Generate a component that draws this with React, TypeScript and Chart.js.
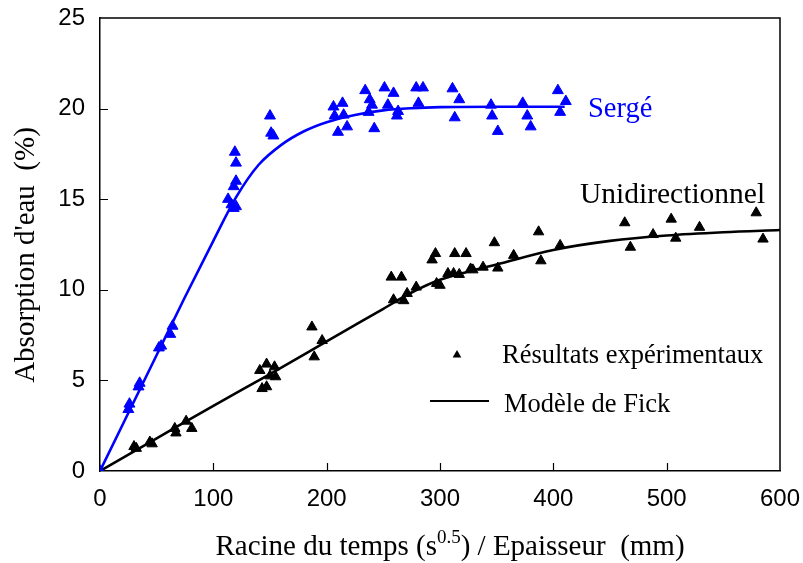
import React, { useEffect, useRef } from "react";
import { Chart, registerables } from "chart.js";

Chart.register(...registerables);

// ---- Data ----
const sergeX = [0, 25, 26, 34, 35, 52, 54, 62, 64, 113, 116, 118, 120, 118, 120, 120, 119, 150, 151, 153,
  206, 214, 207, 215, 218, 210, 234, 238, 237, 240, 242, 251, 259, 254, 263, 262, 279, 285, 281,
  311, 317, 313, 345, 346, 351, 373, 377, 380, 404, 406, 411];
const sergeY = [0, 3.4, 3.7, 4.65, 4.85, 6.8, 6.9, 7.55, 8.0, 15.0, 14.7, 14.5, 14.6, 15.7, 16.0, 17.0, 17.6, 19.6, 18.65, 18.5,
  20.1, 20.3, 19.6, 19.65, 19.0, 18.7, 21.0, 20.5, 19.8, 20.2, 18.9, 21.15, 20.85, 20.2, 19.85, 19.6, 21.15, 21.15, 20.3,
  21.1, 20.5, 19.5, 20.2, 19.6, 18.75, 20.3, 19.6, 19.0, 21.0, 19.8, 20.4];

const sergeModelX = [0, 25, 50, 75, 100, 120, 140, 160, 180, 200, 225, 250, 275, 300, 350, 410];
const sergeModelY = [0, 3.2, 6.4, 9.6, 12.7, 15.1, 16.9, 18.0, 18.75, 19.25, 19.65, 19.9, 20.02, 20.08, 20.1, 20.1];

const uniX = [0, 30, 32, 44, 46, 66, 67, 76, 81, 141, 147, 154, 150, 143, 147, 155, 187, 189, 196,
  257, 266, 259, 268, 271, 279, 296, 293, 297, 300, 307, 312, 313, 317, 323, 327, 329, 338, 348, 351, 365,
  387, 389, 406, 463, 468, 488, 504, 508, 529, 579, 585];
const uniY = [0, 1.35, 1.25, 1.6, 1.5, 2.35, 2.1, 2.75, 2.35, 5.55, 5.9, 5.75, 5.25, 4.55, 4.65, 5.2, 7.95, 6.3, 7.2,
  10.7, 10.7, 9.45, 9.4, 9.8, 10.15, 12.0, 11.65, 10.35, 10.25, 10.9, 10.9, 12.0, 10.85, 12.0, 11.15, 11.1, 11.25, 12.6, 11.2, 11.9,
  13.2, 11.6, 12.45, 13.7, 12.35, 13.05, 13.9, 12.85, 13.45, 14.25, 12.8];

const uniModelX = [0, 50, 100, 150, 200, 250, 275, 300, 325, 350, 400, 450, 500, 550, 600];
const uniModelY = [0, 1.8, 3.6, 5.35, 7.15, 8.95, 9.85, 10.55, 11.0, 11.4, 12.2, 12.7, 13.0, 13.18, 13.3];

const xTickValues = [0, 100, 200, 300, 400, 500, 600];
const yTickValues = [0, 5, 10, 15, 20, 25];

const BLUE = "#0000ff";
const BLACK = "#000000";
const SERIF = "'Liberation Serif', 'Times New Roman', serif";
const SANS = "'Liberation Sans', Arial, sans-serif";

const toPts = (xs: number[], ys: number[]) => xs.map((x, i) => ({ x, y: ys[i] }));

const decorPlugin = {
  id: "decor",
  afterDraw(chart: any) {
    const { ctx, chartArea: a, scales } = chart;
    const xs = scales.x;
    const ys = scales.y;
    ctx.save();
    // frame top & right
    ctx.strokeStyle = BLACK;
    ctx.lineWidth = 1.5;
    ctx.beginPath();
    ctx.moveTo(a.left, a.top);
    ctx.lineTo(a.right, a.top);
    ctx.lineTo(a.right, a.bottom);
    ctx.stroke();
    // inward ticks
    ctx.lineWidth = 1.2;
    ctx.beginPath();
    for (const v of xTickValues) {
      if (v === 0 || v === 600) continue;
      const px = Math.round(xs.getPixelForValue(v)) + 0.5;
      ctx.moveTo(px, a.bottom);
      ctx.lineTo(px, a.bottom - 8);
    }
    for (const v of yTickValues) {
      if (v === 0 || v === 25) continue;
      const py = Math.round(ys.getPixelForValue(v)) + 0.5;
      ctx.moveTo(a.left, py);
      ctx.lineTo(a.left + 8, py);
    }
    ctx.stroke();

    ctx.fillStyle = BLACK;
    ctx.textBaseline = "alphabetic";
    ctx.textAlign = "left";

    // x title with superscript
    const mainFont = `29px ${SERIF}`;
    const supFont = `19px ${SERIF}`;
    const p1 = "Racine du temps (s";
    const sup = "0.5";
    const p2 = ") / Epaisseur  (mm)";
    ctx.font = mainFont;
    const w1 = ctx.measureText(p1).width;
    const w3 = ctx.measureText(p2).width;
    ctx.font = supFont;
    const w2 = ctx.measureText(sup).width;
    const total = w1 + w2 + w3;
    let tx = 450 - total / 2;
    const base = 555;
    ctx.font = mainFont;
    ctx.fillText(p1, tx, base);
    tx += w1;
    ctx.font = supFont;
    ctx.fillText(sup, tx, base - 12);
    tx += w2;
    ctx.font = mainFont;
    ctx.fillText(p2, tx, base);

    // y title
    ctx.save();
    ctx.translate(34, 255);
    ctx.rotate(-Math.PI / 2);
    ctx.textAlign = "center";
    ctx.font = mainFont;
    ctx.fillText("Absorption d'eau  (%)", 0, 0);
    ctx.restore();

    // series annotations
    ctx.font = `28.5px ${SERIF}`;
    ctx.fillStyle = BLUE;
    ctx.fillText("Sergé", 588, 117);
    ctx.fillStyle = BLACK;
    ctx.font = `29.5px ${SERIF}`;
    ctx.fillText("Unidirectionnel", 580, 203);

    // legend
    ctx.font = `26.5px ${SERIF}`;
    ctx.fillText("Résultats expérimentaux", 502, 363);
    ctx.fillText("Modèle de Fick", 504, 412);
    // legend triangle
    const r = 5;
    const cx = 457, cy = 355;
    ctx.beginPath();
    for (let k = 0; k < 3; k++) {
      const ang = (k * 2 * Math.PI) / 3;
      const px = cx + Math.sin(ang) * r;
      const py = cy - Math.cos(ang) * r;
      if (k === 0) ctx.moveTo(px, py);
      else ctx.lineTo(px, py);
    }
    ctx.closePath();
    ctx.fill();
    // legend line
    ctx.strokeStyle = BLACK;
    ctx.lineWidth = 2.2;
    ctx.beginPath();
    ctx.moveTo(430, 401);
    ctx.lineTo(489, 401);
    ctx.stroke();
    ctx.restore();
  },
};

export default function App() {
  const canvasRef = useRef<HTMLCanvasElement | null>(null);

  useEffect(() => {
    const canvas = canvasRef.current;
    if (!canvas) return;
    const chart = new Chart(canvas, {
      type: "scatter",
      data: {
        datasets: [
          {
            label: "Sergé modèle",
            data: toPts(sergeModelX, sergeModelY),
            showLine: true,
            borderColor: BLUE,
            borderWidth: 2.6,
            pointRadius: 0,
            cubicInterpolationMode: "monotone",
            order: 2,
          },
          {
            label: "Sergé",
            data: toPts(sergeX, sergeY),
            pointStyle: "triangle",
            pointRadius: 6.3,
            backgroundColor: BLUE,
            borderColor: BLUE,
            borderWidth: 1,
            order: 0,
          },
          {
            label: "Unidirectionnel modèle",
            data: toPts(uniModelX, uniModelY),
            showLine: true,
            borderColor: BLACK,
            borderWidth: 2.6,
            pointRadius: 0,
            cubicInterpolationMode: "monotone",
            order: 3,
          },
          {
            label: "Unidirectionnel",
            data: toPts(uniX, uniY),
            pointStyle: "triangle",
            pointRadius: 6,
            backgroundColor: BLACK,
            borderColor: BLACK,
            borderWidth: 1,
            order: 1,
          },
        ],
      },
      options: {
        animation: false,
        responsive: false,
        maintainAspectRatio: false,
        layout: { padding: { left: 0, top: 18, right: 23, bottom: 0 } },
        plugins: {
          legend: { display: false },
          tooltip: { enabled: false },
        },
        scales: {
          x: {
            type: "linear",
            min: 0,
            max: 600,
            afterFit: (s: any) => {
              s.height = 92;
              s.paddingLeft = 0;
              s.paddingRight = 0;
            },
            afterBuildTicks: (s: any) => {
              s.ticks = xTickValues.map((v) => ({ value: v }));
            },
            grid: { display: false, drawTicks: false },
            border: { display: true, color: BLACK, width: 1.5 },
            ticks: {
              color: BLACK,
              font: { family: SANS, size: 24 },
              padding: 14,
              maxRotation: 0,
            },
          },
          y: {
            type: "linear",
            min: 0,
            max: 25,
            afterFit: (s: any) => {
              s.width = 100;
              s.paddingTop = 0;
              s.paddingBottom = 0;
            },
            afterBuildTicks: (s: any) => {
              s.ticks = yTickValues.map((v) => ({ value: v }));
            },
            grid: { display: false, drawTicks: false },
            border: { display: true, color: BLACK, width: 1.5 },
            ticks: {
              color: BLACK,
              font: { family: SANS, size: 24 },
              padding: 15,
            },
          },
        },
      },
      plugins: [decorPlugin],
    });
    return () => chart.destroy();
  }, []);

  return (
    <div style={{ position: "fixed", left: 0, top: 0, width: 803, height: 563, background: "#fff" }}>
      <canvas ref={canvasRef} width={803} height={563} style={{ display: "block" }} />
    </div>
  );
}
